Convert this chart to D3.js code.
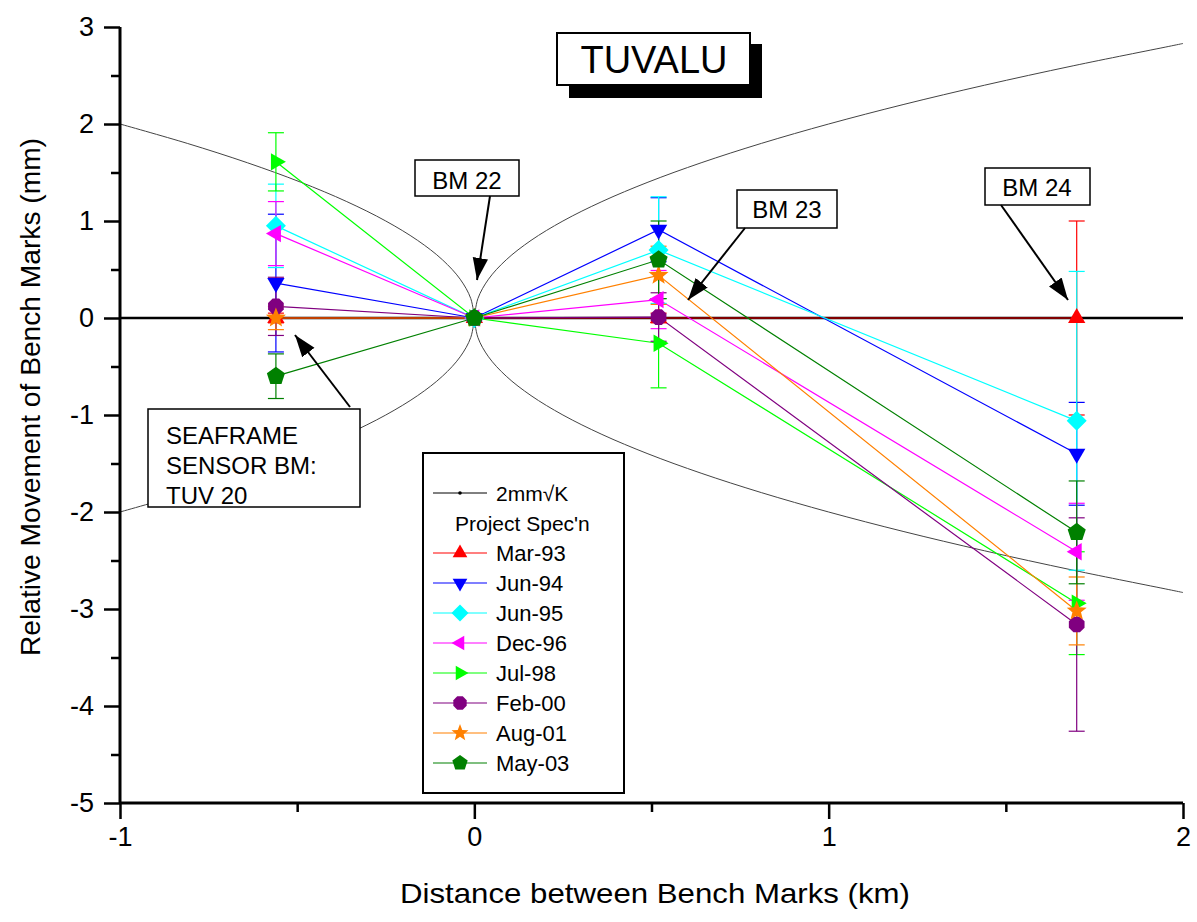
<!DOCTYPE html>
<html><head><meta charset="utf-8">
<script src="https://cdn.jsdelivr.net/npm/d3@7"></script>
<style>
body{margin:0;background:#fff;}
text{font-family:"Liberation Sans",Arial,sans-serif;}
</style></head>
<body><svg id="c" width="1197" height="922"></svg>
<script>
// ---- data ----
const distances = [-0.56, 0, 0.52, 1.7];               // km, BM positions
const seriesNames = ["Mar-93","Jun-94","Jun-95","Dec-96","Jul-98","Feb-00","Aug-01","May-03"];
const mar93 = [0, 0, 0, 0];
const jun94 = [0.36, 0, 0.91, -1.40];
const jun95 = [0.95, 0, 0.70, -1.06];
const dec96 = [0.87, 0, 0.19, -2.41];
const jul98 = [1.61, 0, -0.26, -2.94];
const feb00 = [0.12, 0, 0.01, -3.16];
const aug01 = [0.00, 0, 0.44, -3.02];
const may03 = [-0.60, 0, 0.60, -2.21];
const mar93Err = [0.05, 0, 0.05, 1.00];
const jun94Err = [0.71, 0, 0.33, 0.53];
const jun95Err = [0.43, 0, 0.55, 1.54];
const dec96Err = [0.33, 0, 0.30, 0.50];
const jul98Err = [0.30, 0, 0.46, 0.53];
const feb00Err = [0.30, 0, 0.25, 1.10];
const aug01Err = [0.12, 0, 0.30, 0.35];
const may03Err = [0.23, 0, 0.40, 0.53];
// project specification 2mm*sqrt(K) envelope (distance km, mm)
const specDist = [0, 0.01, 0.04, 0.09, 0.16, 0.25, 0.36, 0.49, 0.64, 0.81, 1.0, 1.21, 1.44, 1.69, 1.96, 2.0];
const specMm   = [0, 0.2, 0.4, 0.6, 0.8, 1.0, 1.2, 1.4, 1.6, 1.8, 2.0, 2.2, 2.4, 2.6, 2.8, 2.83];
const xTicks = [-1, 0, 1, 2];
const yTicks = [-5, -4, -3, -2, -1, 0, 1, 2, 3];

const values = [mar93, jun94, jun95, dec96, jul98, feb00, aug01, may03];
const errors = [mar93Err, jun94Err, jun95Err, dec96Err, jul98Err, feb00Err, aug01Err, may03Err];
const colors = ["#ff0000","#0000ff","#00ffff","#ff00ff","#00ff00","#800080","#ff8000","#008000"];
const shapes = ["tri-up","tri-down","diamond","tri-left","tri-right","octagon","star","pentagon"];

// ---- layout ----
const svg = d3.select("#c");
const x = d3.scaleLinear().domain([-1, 2]).range([120, 1183]);
const y = d3.scaleLinear().domain([-5, 3]).range([803, 27]);

function poly(n, r, rot){
  const p=[];for(let i=0;i<n;i++){const a=rot+i*2*Math.PI/n;p.push([r*Math.cos(a),r*Math.sin(a)]);}
  return "M"+p.map(d=>d[0].toFixed(2)+","+d[1].toFixed(2)).join("L")+"Z";
}
function shapePath(s){
  const r=10;
  switch(s){
    case "tri-up": return poly(3,r,-Math.PI/2);
    case "tri-down": return poly(3,r,Math.PI/2);
    case "tri-left": return poly(3,r,Math.PI);
    case "tri-right": return poly(3,r,0);
    case "diamond": return poly(4,r,-Math.PI/2);
    case "octagon": return poly(8,8.5,Math.PI/8);
    case "pentagon": return poly(5,9.5,-Math.PI/2);
    case "star": {
      const p=[];for(let i=0;i<10;i++){const a=-Math.PI/2+i*Math.PI/5;const rr=i%2?4.5:10.5;p.push([rr*Math.cos(a),rr*Math.sin(a)]);}
      return "M"+p.map(d=>d[0].toFixed(2)+","+d[1].toFixed(2)).join("L")+"Z";
    }
  }
}

const defs = svg.append("defs");
defs.append("marker").attr("id","arr").attr("viewBox","0 0 10 10").attr("refX",10).attr("refY",5)
  .attr("markerWidth",22).attr("markerHeight",22).attr("markerUnits","userSpaceOnUse").attr("orient","auto")
  .append("path").attr("d","M0,1.5L10,5L0,8.5Z").attr("fill","#000");

// spec curves
const specLine = d3.line().x(d=>x(d[0])).y(d=>y(d[1])).curve(d3.curveCatmullRom);
const leftIdx = specDist.map((d,i)=>i).filter(i=>specDist[i]<=1.0);
[[1,-1],[-1,-1],[1,1],[-1,1]].forEach(([sy,sx])=>{
  const idx = sx<0 ? leftIdx : specDist.map((d,i)=>i);
  const pts = idx.map(i=>[sx*specDist[i], sy*specMm[i]]);
  svg.append("path").attr("d",specLine(pts)).attr("fill","none").attr("stroke","#444").attr("stroke-width",1);
});

// zero line
svg.append("line").attr("x1",x(-1)).attr("x2",x(2)).attr("y1",y(0)).attr("y2",y(0))
  .attr("stroke","#000").attr("stroke-width",2.5);

// series lines
const ln = d3.line().x((d,i)=>x(distances[i])).y(d=>y(d));
values.forEach((v,k)=>{
  svg.append("path").attr("d",ln(v)).attr("fill","none").attr("stroke",colors[k]).attr("stroke-width",1.2);
});
// error bars
values.forEach((v,k)=>{
  const g=svg.append("g").attr("stroke",colors[k]).attr("stroke-width",1.2);
  v.forEach((val,i)=>{
    const e=errors[k][i]; if(!e) return;
    const cx=x(distances[i]);
    g.append("line").attr("x1",cx).attr("x2",cx).attr("y1",y(val-e)).attr("y2",y(val+e));
    g.append("line").attr("x1",cx-8).attr("x2",cx+8).attr("y1",y(val-e)).attr("y2",y(val-e));
    g.append("line").attr("x1",cx-8).attr("x2",cx+8).attr("y1",y(val+e)).attr("y2",y(val+e));
  });
});
// markers
values.forEach((v,k)=>{
  v.forEach((val,i)=>{
    svg.append("path").attr("d",shapePath(shapes[k]))
      .attr("transform",`translate(${x(distances[i])},${y(val)})`).attr("fill",colors[k]);
  });
});

// axes
const fmt = d => String(d);
const gx = svg.append("g").attr("transform",`translate(0,${y(-5)})`)
  .call(d3.axisBottom(x).tickValues(xTicks).tickFormat(fmt).tickSize(16).tickPadding(8));
svg.append("g").attr("transform",`translate(0,${y(-5)})`)
  .call(d3.axisBottom(x).tickValues([-0.5,0.5,1.5]).tickFormat("").tickSize(9))
  .call(g=>g.select(".domain").remove());
const gy = svg.append("g").attr("transform",`translate(${x(-1)},0)`)
  .call(d3.axisLeft(y).tickValues(yTicks).tickFormat(fmt).tickSize(16).tickPadding(10));
svg.append("g").attr("transform",`translate(${x(-1)},0)`)
  .call(d3.axisLeft(y).tickValues([-4.5,-3.5,-2.5,-1.5,-0.5,0.5,1.5,2.5]).tickFormat("").tickSize(9))
  .call(g=>g.select(".domain").remove());
svg.selectAll(".domain").attr("stroke-width",3);
gx.select(".domain").attr("d",`M${x(-1)},0H${x(2)}`);
gy.select(".domain").attr("d",`M0,${y(-5)}V${y(3)}`);
svg.selectAll(".tick line").attr("stroke-width",2.5);
gx.selectAll("text").attr("font-size",27).attr("font-family","Liberation Sans, Arial");
gy.selectAll("text").attr("font-size",27).attr("font-family","Liberation Sans, Arial");

// axis titles
svg.append("text").attr("x",655).attr("y",903).attr("text-anchor","middle").attr("font-size",28)
  .attr("textLength",510).attr("lengthAdjust","spacingAndGlyphs").text("Distance between Bench Marks (km)");
svg.append("text").attr("transform","translate(40,397) rotate(-90)").attr("text-anchor","middle").attr("font-size",28)
  .attr("textLength",518).attr("lengthAdjust","spacingAndGlyphs").text("Relative Movement of Bench Marks (mm)");

// title box
svg.append("rect").attr("x",569).attr("y",44).attr("width",193).attr("height",54).attr("fill","#000");
svg.append("rect").attr("x",557).attr("y",33).attr("width",193).attr("height",52).attr("fill","#fff").attr("stroke","#000").attr("stroke-width",2);
svg.append("text").attr("x",654).attr("y",73).attr("text-anchor","middle").attr("font-size",38).text("TUVALU");

// annotation boxes
function box(x0,y0,w,h,lines,tx,fs){
  svg.append("rect").attr("x",x0).attr("y",y0).attr("width",w).attr("height",h).attr("fill","#fff").attr("stroke","#000").attr("stroke-width",1.5);
  lines.forEach((t,i)=>svg.append("text").attr("x",tx).attr("y",lines.ty[i]).attr("font-size",fs).attr("text-anchor",lines.anchor||"start").text(t));
}
function arrow(x1,y1,x2,y2){
  svg.append("line").attr("x1",x1).attr("y1",y1).attr("x2",x2).attr("y2",y2).attr("stroke","#000").attr("stroke-width",2).attr("marker-end","url(#arr)");
}
let L;
L=["BM 22"]; L.ty=[189]; L.anchor="middle"; box(415,160,104,36,L,467,24);
arrow(490,196,477,280);
L=["BM 23"]; L.ty=[218]; L.anchor="middle"; box(737,190,100,38,L,787,24);
arrow(745,228,688,300);
L=["BM 24"]; L.ty=[196]; L.anchor="middle"; box(985,168,105,37,L,1037,24);
arrow(1001,205,1068,300);
L=["SEAFRAME","SENSOR BM:","TUV 20"]; L.ty=[444,474,504]; box(148,409,212,98,L,166,24);
arrow(350,407,295,335);

// legend
const lg = svg.append("g");
lg.append("rect").attr("x",423).attr("y",453).attr("width",201).attr("height",340).attr("fill","#fff").attr("stroke","#000").attr("stroke-width",2);
lg.append("line").attr("x1",433).attr("x2",487).attr("y1",493).attr("y2",493).attr("stroke","#000").attr("stroke-width",1);
lg.append("circle").attr("cx",460).attr("cy",493).attr("r",1.8).attr("fill","#000");
lg.append("text").attr("x",496).attr("y",501).attr("font-size",21).text("2mm\u221AK");
lg.append("text").attr("x",455).attr("y",531).attr("font-size",21).text("Project Spec'n");
seriesNames.forEach((n,k)=>{
  const cy=553+k*30;
  lg.append("line").attr("x1",433).attr("x2",487).attr("y1",cy).attr("y2",cy).attr("stroke",colors[k]).attr("stroke-width",1.2);
  lg.append("path").attr("d",shapePath(shapes[k])).attr("transform",`translate(460,${cy}) scale(0.85)`).attr("fill",colors[k]);
  lg.append("text").attr("x",496).attr("y",cy+8).attr("font-size",22).text(n);
});
</script></body></html>
